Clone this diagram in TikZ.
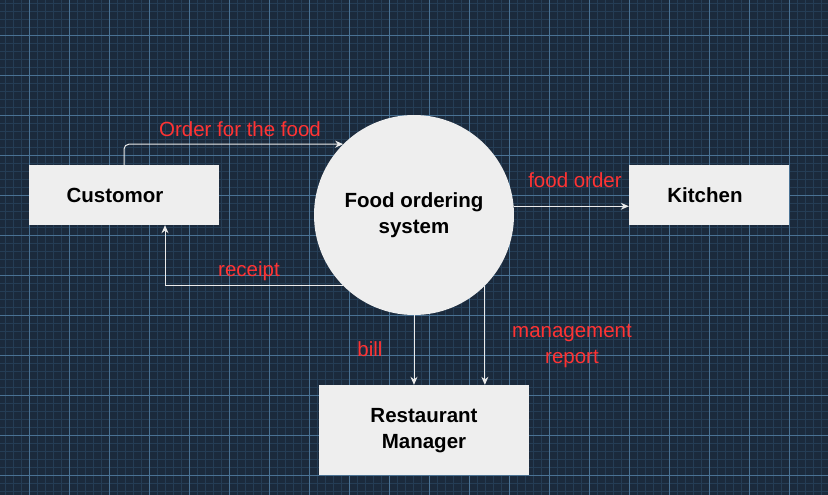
\documentclass[tikz,border=0pt]{standalone}
\usepackage{fontspec}
\setmainfont{Liberation Sans}
\usetikzlibrary{arrows.meta}
\definecolor{bggrid}{RGB}{27,42,60}
\definecolor{minorgrid}{RGB}{37,61,85}
\definecolor{majorgrid}{RGB}{74,114,148}
\definecolor{boxgray}{RGB}{238,238,238}
\definecolor{flowred}{RGB}{255,51,51}
\definecolor{flowline}{RGB}{235,235,235}
\newcommand{\twolines}[2]{\raisebox{-2pt}{\begin{tabular}{@{}c@{}}#1\\#2\end{tabular}}}

\tikzset{
	entity/.style={fill=boxgray, inner sep=0pt, align=center,
		font=\fontsize{20.5}{26}\selectfont\bfseries},
	process/.style={entity, circle, minimum size=200pt},
	flow/.style={flowline, line width=1pt, -{Stealth[length=8pt,width=7pt]}},
	flowlabel/.style={text=flowred, inner sep=0pt, align=center,
		font=\fontsize{20.5}{26}\selectfont}
}

\begin{document}
\begin{tikzpicture}[x=1pt, y=-1pt]
		\useasboundingbox (0,0) rectangle (828,495);
		% grid background
		\fill [bggrid] (0,0) rectangle (828,495);
		\foreach \x in {5.5,13.5,...,828}{
			\draw [minorgrid, line width=1pt] (\x,0)--(\x,495);
		}
		\foreach \y in {3.5,11.5,...,495}{
			\draw [minorgrid, line width=1pt] (0,\y)--(828,\y);
		}
		\foreach \x in {29.5,69.5,...,828}{
			\draw [majorgrid, line width=1pt] (\x,0)--(\x,495);
		}
		\foreach \y in {35.5,75.5,...,495}{
			\draw [majorgrid, line width=1pt] (0,\y)--(828,\y);
		}
		% entities and process
		\node [entity, minimum width=190pt, minimum height=60pt] (customer) at (124,195) {Customor\hspace*{18pt}};
		\node [entity, minimum width=160pt, minimum height=60pt] (kitchen) at (709,195) {Kitchen\hspace*{8pt}};
		\node [entity, minimum width=210pt, minimum height=90pt] (manager) at (424,430) {\twolines{Restaurant}{Manager}};
		\node [process] (system) at (414,215) {\twolines{Food ordering}{system}};
		% data flows
		\draw [flow, rounded corners=5pt] (customer.north) |- (system.135.6);
		\draw [flow] (system.5.7) -- (system.5.7 -| kitchen.west);
		\draw [flow] (system.225.2) -| ([xshift=41pt]customer.south);
		\draw [flow] (system.south) -- (system.south |- manager.north);
		\draw [flow] (system.-45.2) -- (system.-45.2 |- manager.north);
		% flow labels
		\node [flowlabel] (orderlbl) at (240,129) {Order for the food};
		\node [flowlabel] (foodlbl) at (575,180) {food order};
		\node [flowlabel] (receiptlbl) at (249,271) {receipt};
		\node [flowlabel] (billlbl) at (370,349) {bill};
		\node [flowlabel] (reportlbl) at (572,346) {management\\report};
	\end{tikzpicture}
\end{document}
